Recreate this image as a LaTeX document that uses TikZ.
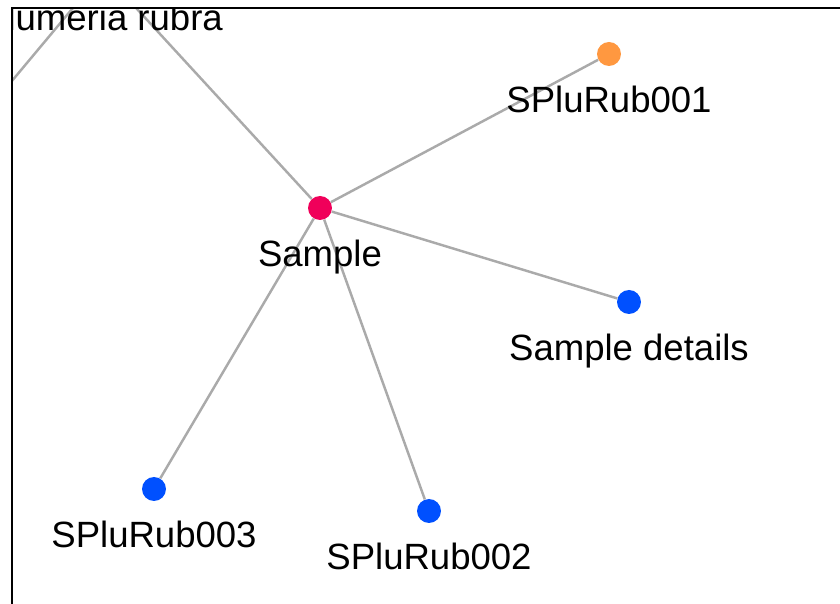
\documentclass[tikz,border=0pt]{standalone}
\usepackage{fontspec}
\setmainfont{Liberation Sans}
\usetikzlibrary{positioning}
\definecolor{edgegray}{RGB}{170,170,170}
\definecolor{samplepink}{RGB}{240,0,90}
\definecolor{rootorange}{RGB}{255,152,64}
\definecolor{leafblue}{RGB}{0,80,255}

\begin{document}
\begin{tikzpicture}[x=0.02cm,y=-0.02cm,
    dot/.style={circle,inner sep=0pt,minimum size=0.48cm},
    tag/.style={font=\fontsize{20.8}{24}\selectfont,inner sep=0pt,anchor=base},
    link/.style={draw=edgegray,line width=1.4pt}]
    \useasboundingbox (0,0) rectangle (840,604);
    \begin{scope}
        \clip (13,9) rectangle (840,604);
        % nodes
        \node[dot] (plumeria) at (103,-28) {};
        \coordinate (offleft) at (-60,167);
        \node[dot,fill=samplepink] (sample) at (320,208) {};
        \node[dot,fill=rootorange] (rub001) at (609,54) {};
        \node[dot,fill=leafblue] (details) at (629,302) {};
        \node[dot,fill=leafblue] (rub002) at (429,511) {};
        \node[dot,fill=leafblue] (rub003) at (154,489) {};
        % links
        \draw[link] (plumeria) -- (offleft);
        \draw[link] (sample) -- (plumeria);
        \draw[link] (sample) -- (rub001);
        \draw[link] (sample) -- (details);
        \draw[link] (sample) -- (rub002);
        \draw[link] (sample) -- (rub003);
        % labels
        \path (plumeria) ++(0,59) node[tag] {Plumeria rubra};
        \path (sample) ++(0,59) node[tag] {Sample};
        \path (rub001) ++(0,59) node[tag] {SPluRub001};
        \path (details) ++(0,59) node[tag] {Sample details};
        \path (rub002) ++(0,59) node[tag] {SPluRub002};
        \path (rub003) ++(0,59) node[tag] {SPluRub003};
    \end{scope}
    \draw[line width=1.1pt] (12,604) -- (12,8) -- (840,8);
\end{tikzpicture}
\end{document}
